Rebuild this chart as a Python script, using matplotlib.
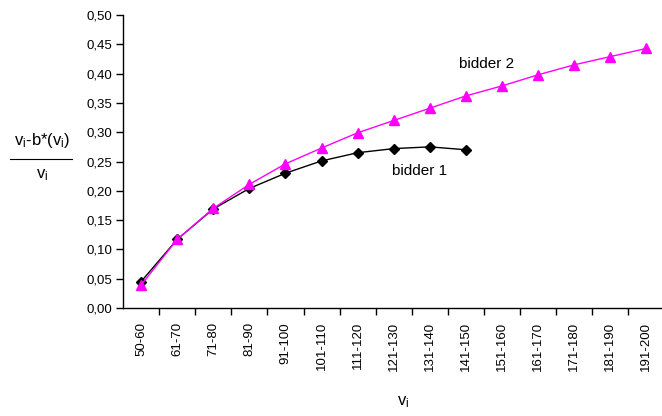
import matplotlib
matplotlib.use("Agg")
import matplotlib.pyplot as plt
from matplotlib.lines import Line2D
import numpy as np

plt.rcParams['font.family'] = ['Liberation Sans', 'DejaVu Sans']
plt.rcParams['mathtext.fontset'] = 'custom'
plt.rcParams['mathtext.rm'] = 'Liberation Sans'
plt.rcParams['mathtext.it'] = 'Liberation Sans'

categories = ["50-60", "61-70", "71-80", "81-90", "91-100", "101-110", "111-120",
              "121-130", "131-140", "141-150", "151-160", "161-170", "171-180",
              "181-190", "191-200"]
bidder1 = [0.045, 0.117, 0.169, 0.204, 0.230, 0.251, 0.265, 0.272, 0.275, 0.270]
bidder2 = [0.039, 0.117, 0.170, 0.211, 0.246, 0.273, 0.299, 0.320, 0.341, 0.362,
           0.379, 0.398, 0.415, 0.429, 0.443]
yticks = [0.00, 0.05, 0.10, 0.15, 0.20, 0.25, 0.30, 0.35, 0.40, 0.45, 0.50]

fig = plt.figure(figsize=(6.62, 4.16), dpi=100)
ax = fig.add_axes([123/662, 1-308/416, (664.5-123)/662, (308-15)/416])

x1 = np.arange(len(bidder1))
x2 = np.arange(len(bidder2))
ax.plot(x1, bidder1, color='black', lw=1.0, marker='D', markersize=5.5,
        markerfacecolor='black', markeredgecolor='black', clip_on=False, zorder=3)
ax.plot(x2, bidder2, color='#ff00ff', lw=1.0, marker='^', markersize=7.5,
        markerfacecolor='#ff00ff', markeredgecolor='#ff00ff', clip_on=False, zorder=4)

ax.set_xlim(-0.5, len(categories) - 0.5)
ax.set_ylim(0, 0.5)
ax.set_yticks(yticks)
ax.set_yticklabels([f"{v:.2f}".replace('.', ',') for v in yticks], fontsize=9.5)
ax.set_xticks(np.arange(len(categories)))
ax.set_xticklabels(categories, rotation=90, fontsize=9.5)
ax.set_xticks(np.arange(len(categories)) + 0.5, minor=True)
ax.tick_params(axis='x', which='major', length=0, pad=10)
ax.tick_params(axis='x', which='minor', length=5, width=1, direction='out')
ax.tick_params(axis='y', length=5, width=1, direction='out', pad=3)
for s in ['top', 'right']:
    ax.spines[s].set_visible(False)
for s in ['left', 'bottom']:
    ax.spines[s].set_linewidth(1.0)

ax.text(487/662, 1-64/416, "bidder 2", transform=fig.transFigure, ha='center',
        va='center', fontsize=11)
ax.text(420/662, 1-171/416, "bidder 1", transform=fig.transFigure, ha='center',
        va='center', fontsize=11)

# y-axis label as a fraction
fig.text(42/662, 1-140/416, r"v$_\mathregular{i}$-b*(v$_\mathregular{i}$)",
         ha='center', va='center', fontsize=12)
fig.add_artist(Line2D([10/662, 72/662], [1-159/416, 1-159/416],
                      transform=fig.transFigure, color='black', lw=0.8))
fig.text(42/662, 1-175/416, r"v$_\mathregular{i}$", ha='center', va='center',
         fontsize=12)

fig.text(403/662, 1-402/416, r"v$_\mathregular{i}$", ha='center', va='center',
         fontsize=12)

fig.savefig("out.png", dpi=100)
